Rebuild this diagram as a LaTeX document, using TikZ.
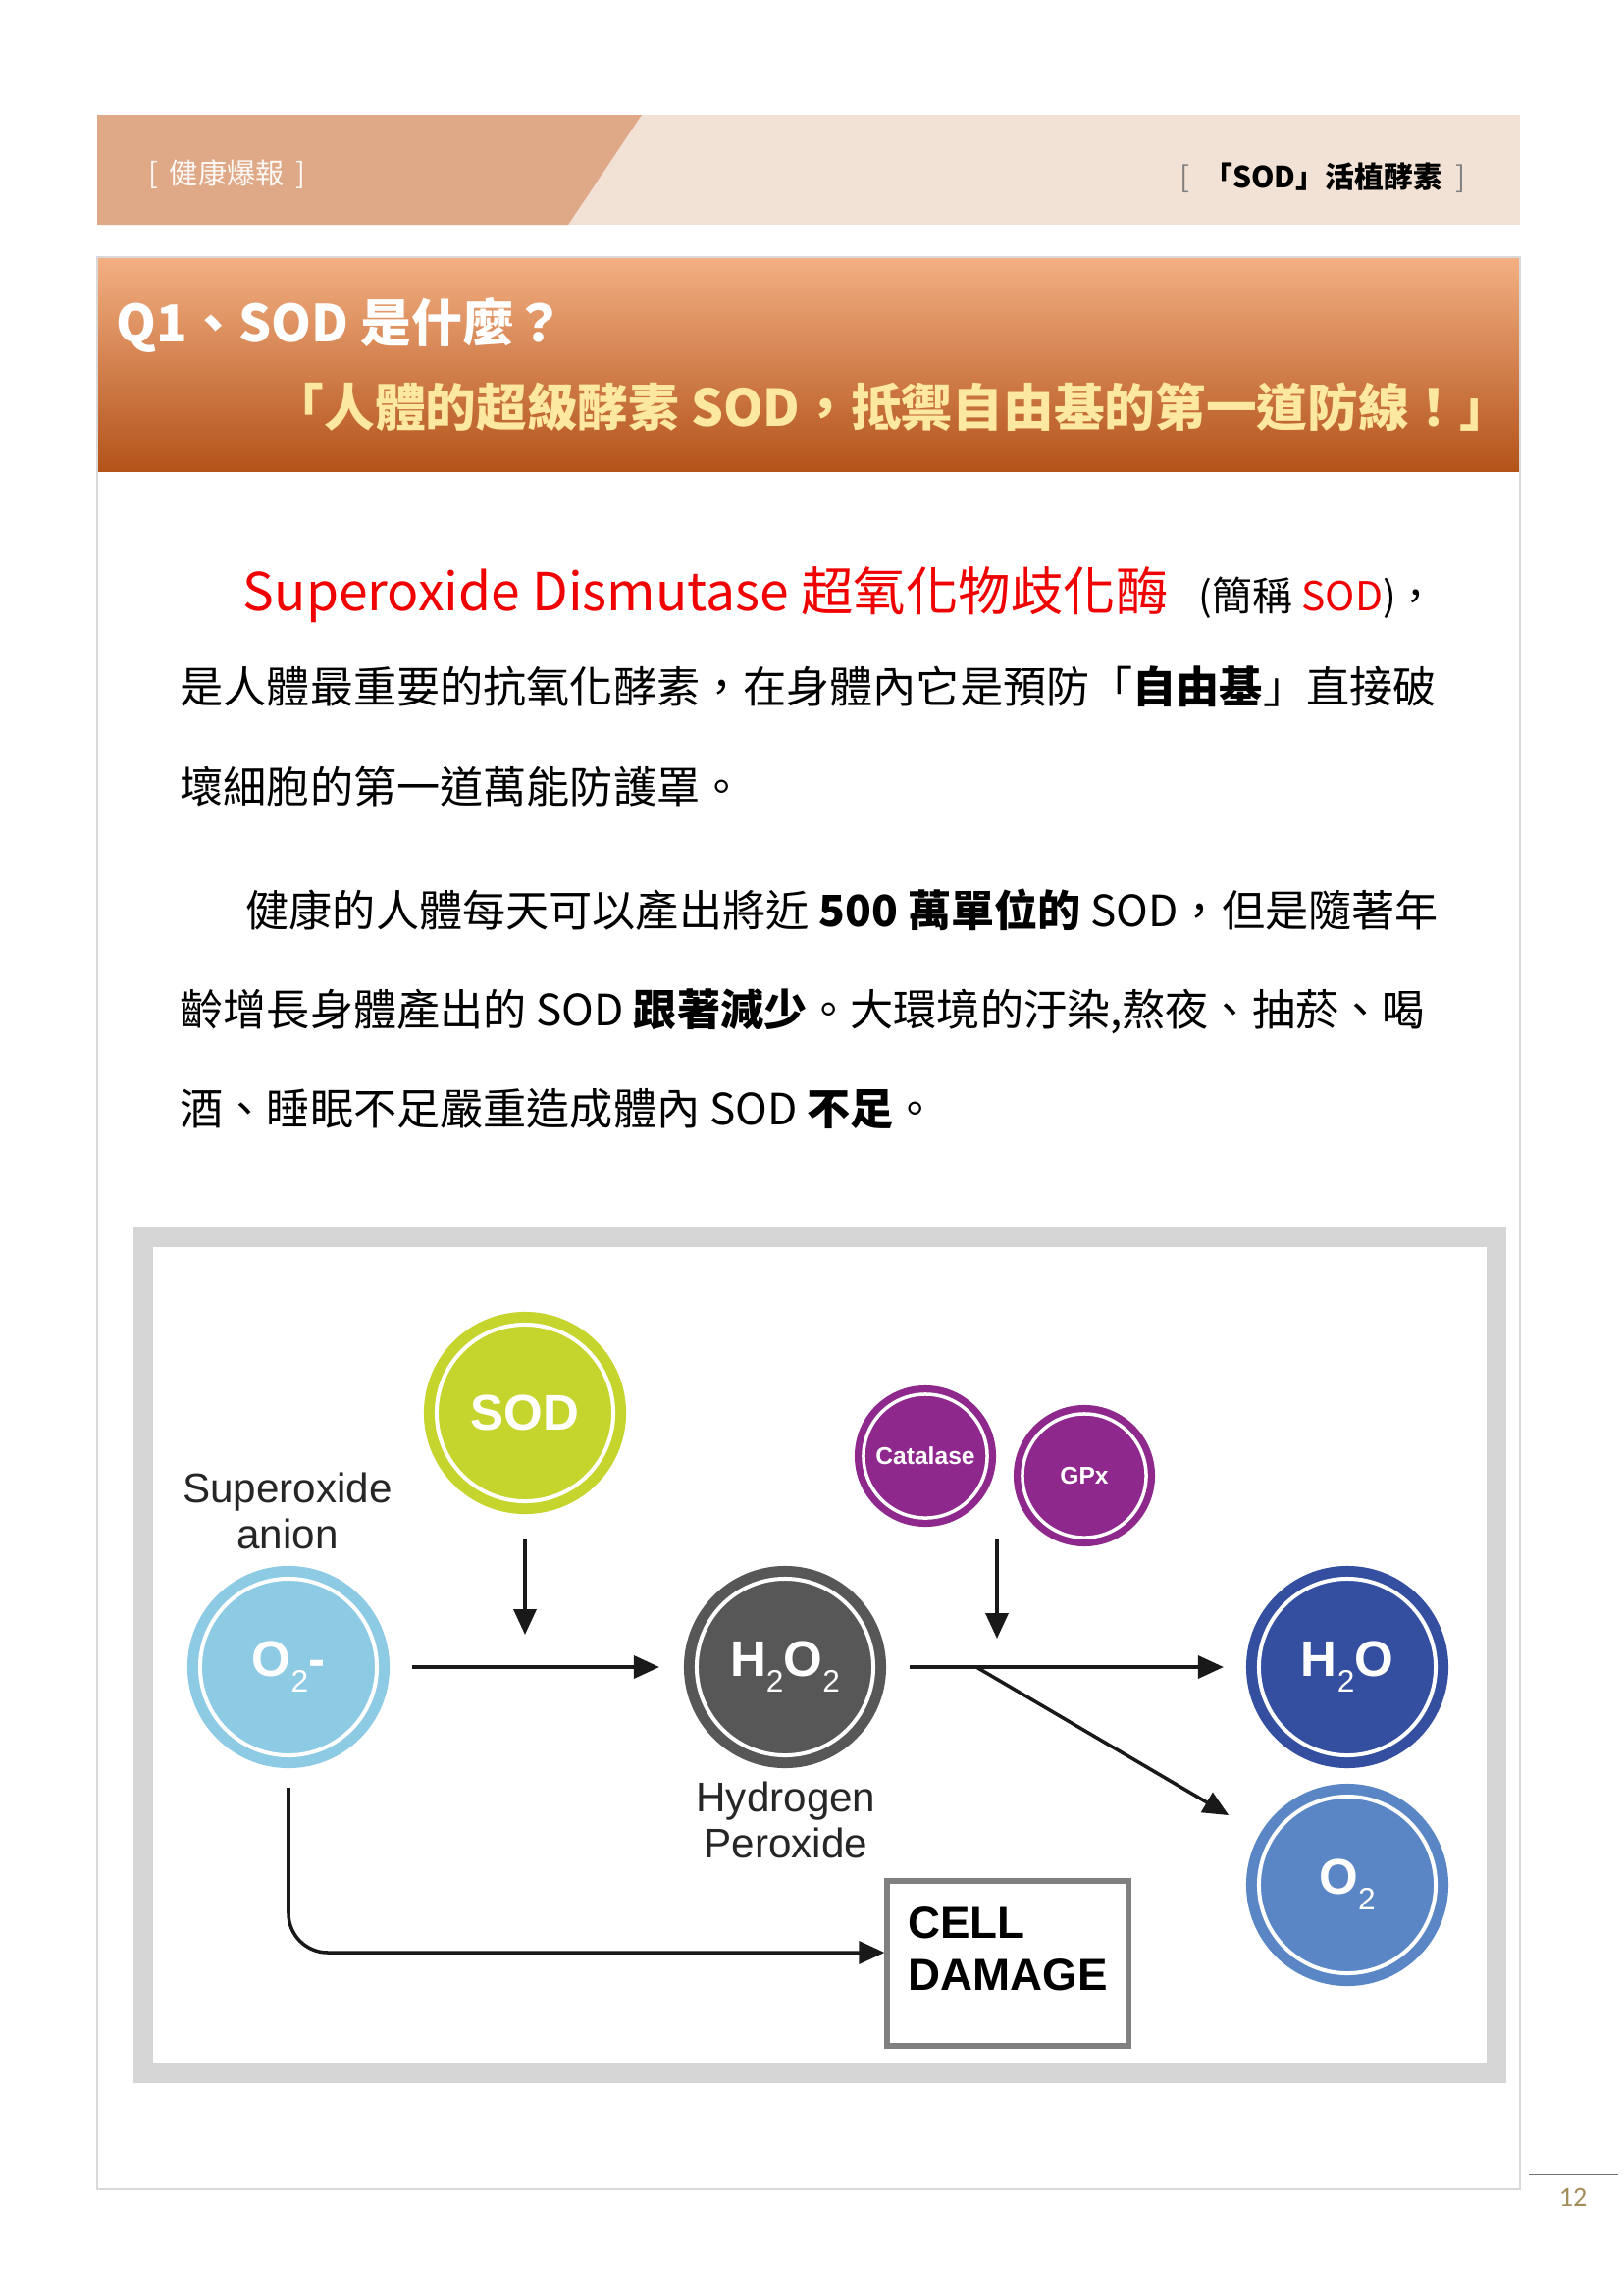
\documentclass[tikz,border=0pt]{standalone}
\usepackage{fontspec}
\setmainfont{Noto Sans CJK TC}
\newfontfamily\figfont{Liberation Sans}
\newfontfamily\numfont{Carlito}
\usetikzlibrary{arrows.meta,positioning}

\definecolor{tabdark}{HTML}{DFA987}
\definecolor{tablight}{HTML}{F2E2D6}
\definecolor{bandtop}{HTML}{F3B083}
\definecolor{bandmid}{HTML}{EB8740}
\definecolor{bandbot}{HTML}{B3531A}
\definecolor{sloganyellow}{HTML}{FCE8A0}
\definecolor{framegray}{HTML}{D9D9D9}
\definecolor{boxgray}{HTML}{D5D5D5}
\definecolor{sodgreen}{HTML}{C5D52E}
\definecolor{enzpurple}{HTML}{8E288C}
\definecolor{anionblue}{HTML}{8DCAE3}
\definecolor{peroxgray}{HTML}{575757}
\definecolor{waterblue}{HTML}{344EA0}
\definecolor{oxyblue}{HTML}{5A86C5}
\definecolor{sodred}{HTML}{F00000}
\definecolor{pagegold}{HTML}{A38E5A}

\newcommand\subtwo{\raisebox{-0.32em}{\mdseries\fontsize{9pt}{9pt}\selectfont 2}}

\begin{document}
\begin{tikzpicture}[x=0.01cm, y=-0.01cm,
    bigball/.style={circle, inner sep=0pt, minimum size=1.80cm, fill=#1, draw=white,
      line width=0.04cm, preaction={draw=#1, line width=0.26cm}, text=white,
      font=\figfont\bfseries\fontsize{14.5pt}{14.5pt}\selectfont},
    smallball/.style={circle, inner sep=0pt, minimum size=1.26cm, fill=#1, draw=white,
      line width=0.035cm, preaction={draw=#1, line width=0.18cm}, text=white,
      font=\figfont\bfseries\fontsize{7pt}{7pt}\selectfont},
    arr/.style={-{Triangle[length=0.26cm, width=0.23cm]}, line width=1pt, black!90},
    bodyline/.style={anchor=base west, inner sep=0pt, font=\fontsize{12.55pt}{15pt}\selectfont},
    lbl/.style={align=center, inner sep=0pt, text=black!85,
      font=\figfont\fontsize{12pt}{13.2pt}\selectfont}
  ]

    % Page and background.
    \fill[white] (0,0) rectangle (1654,2339);
    \useasboundingbox (0,0) rectangle (1654,2339);

    % Draw the header band.
    \fill[tablight] (99,117) rectangle (1549,229);
    \fill[tabdark] (99,117) -- (654,117) -- (579,229) -- (99,229) -- cycle;
    \node[anchor=west, inner sep=0pt, text=white!92!tabdark, font=\fontsize{8.3pt}{10pt}\selectfont] (hdrleft) at (151,178) {[\,\ 健康爆報\,\ ]};
    \node[anchor=east, font=\fontsize{8.5pt}{10pt}\selectfont] (hdrright) at (1506,181)
      {\textcolor{black!50}{[}\ \ \textbf{「SOD」活植酵素}\ \ \textcolor{black!50}{]}};

    % Draw the title band.
    \shade[top color=bandtop, middle color=bandmid, bottom color=bandbot] (99,262) rectangle (1549,480);
    \draw[framegray, line width=0.02cm] (99,262) rectangle (1549,2231);
    \node[anchor=base west, inner sep=0pt, text=white, font=\bfseries\fontsize{14.8pt}{16pt}\selectfont] (q1) at (118,348) {Q1、SOD 是什麼？};
    \node[anchor=base east, inner sep=0pt, text=sloganyellow, font=\bfseries\fontsize{14.7pt}{16pt}\selectfont] (slogan) at (1540,434)
      {「人體的超級酵素 SOD，抵禦自由基的第一道防線！」};

    % Draw the text.
    \node[bodyline, text=sodred, font=\fontsize{15.2pt}{16pt}\selectfont] (p1a) at (247,622) {Superoxide Dismutase 超氧化物歧化酶};
    \node[bodyline, font=\fontsize{11.6pt}{12pt}\selectfont] (p1b) at ([xshift=0.3cm]p1a.base east) {(簡稱 \textcolor{sodred}{SOD})，};
    \node[bodyline] (p1c) at (183,716) {是人體最重要的抗氧化酵素，在身體內它是預防「\textbf{自由基}」直接破};
    \node[bodyline] (p1d) at (183,818) {壞細胞的第一道萬能防護罩。};
    \node[bodyline] (p2a) at (250,944) {健康的人體每天可以產出將近 \textbf{500 萬單位的} SOD，但是隨著年};
    \node[bodyline] (p2b) at (183,1045) {齡增長身體產出的 SOD \textbf{跟著減少}。大環境的汙染,熬夜、抽菸、喝};
    \node[bodyline] (p2c) at (183,1146) {酒、睡眠不足嚴重造成體內 SOD \textbf{不足}。};

    % Draw the figure frame.
    \draw[boxgray, line width=0.2cm] (146,1261) rectangle (1525,2113);

    % Draw the enzymes.
    \node[bigball=sodgreen] (sod) at (535,1440) {SOD};
    \node[smallball=enzpurple] (catalase) at (943,1484) {Catalase};
    \node[smallball=enzpurple] (gpx) at (1105,1504) {GPx};

    % Draw the molecules.
    \node[bigball=anionblue] (o2m) at (294,1699) {O\subtwo-};
    \node[bigball=peroxgray] (h2o2) at (800,1699) {H\subtwo O\subtwo};
    \node[bigball=waterblue] (h2o) at (1373,1699) {H\subtwo O};
    \node[bigball=oxyblue] (o2) at (1373,1921) {O\subtwo};

    % Draw the labels.
    \node[lbl] (anionlbl) at (293,1540) {Superoxide\\anion};
    \node[lbl] (peroxlbl) at (801,1855) {Hydrogen\\Peroxide};
    \node[draw=black!50, line width=0.06cm, minimum width=2.45cm, minimum height=1.67cm, text depth=0.3cm,
      align=left, font=\figfont\bfseries\fontsize{13pt}{14.8pt}\selectfont] (cell) at (1027,2001) {CELL\\DAMAGE};

    % Draw the lines.
    \coordinate (sodtip) at (535,1666);
    \coordinate (enzfoot) at (1016,1568);
    \coordinate (enztip) at (1016,1670);
    \coordinate (split) at (995,1699);
    % Enzymes -> reactions.
    \draw[arr, shorten <=0.36cm] (sod) -- (sodtip);
    \draw[arr] (enzfoot) -- (enztip);
    % Reactions.
    \draw[arr, shorten <=0.34cm, shorten >=0.36cm] (o2m) -- (h2o2);
    \draw[arr, shorten <=0.35cm, shorten >=0.34cm] (h2o2) -- (h2o);
    \draw[arr, shorten >=0.48cm] (split) -- (o2);
    % Damage.
    \draw[arr, rounded corners=0.4cm, shorten <=0.31cm] (o2m) |- ([yshift=0.11cm]cell.west);

    % Draw the page number.
    \draw[black!55, line width=0.01cm] (1558,2216) -- (1649,2216);
    \node[text=pagegold, font=\numfont\fontsize{8pt}{9pt}\selectfont] (pagenum) at (1603,2239) {12};
  \end{tikzpicture}
\end{document}
